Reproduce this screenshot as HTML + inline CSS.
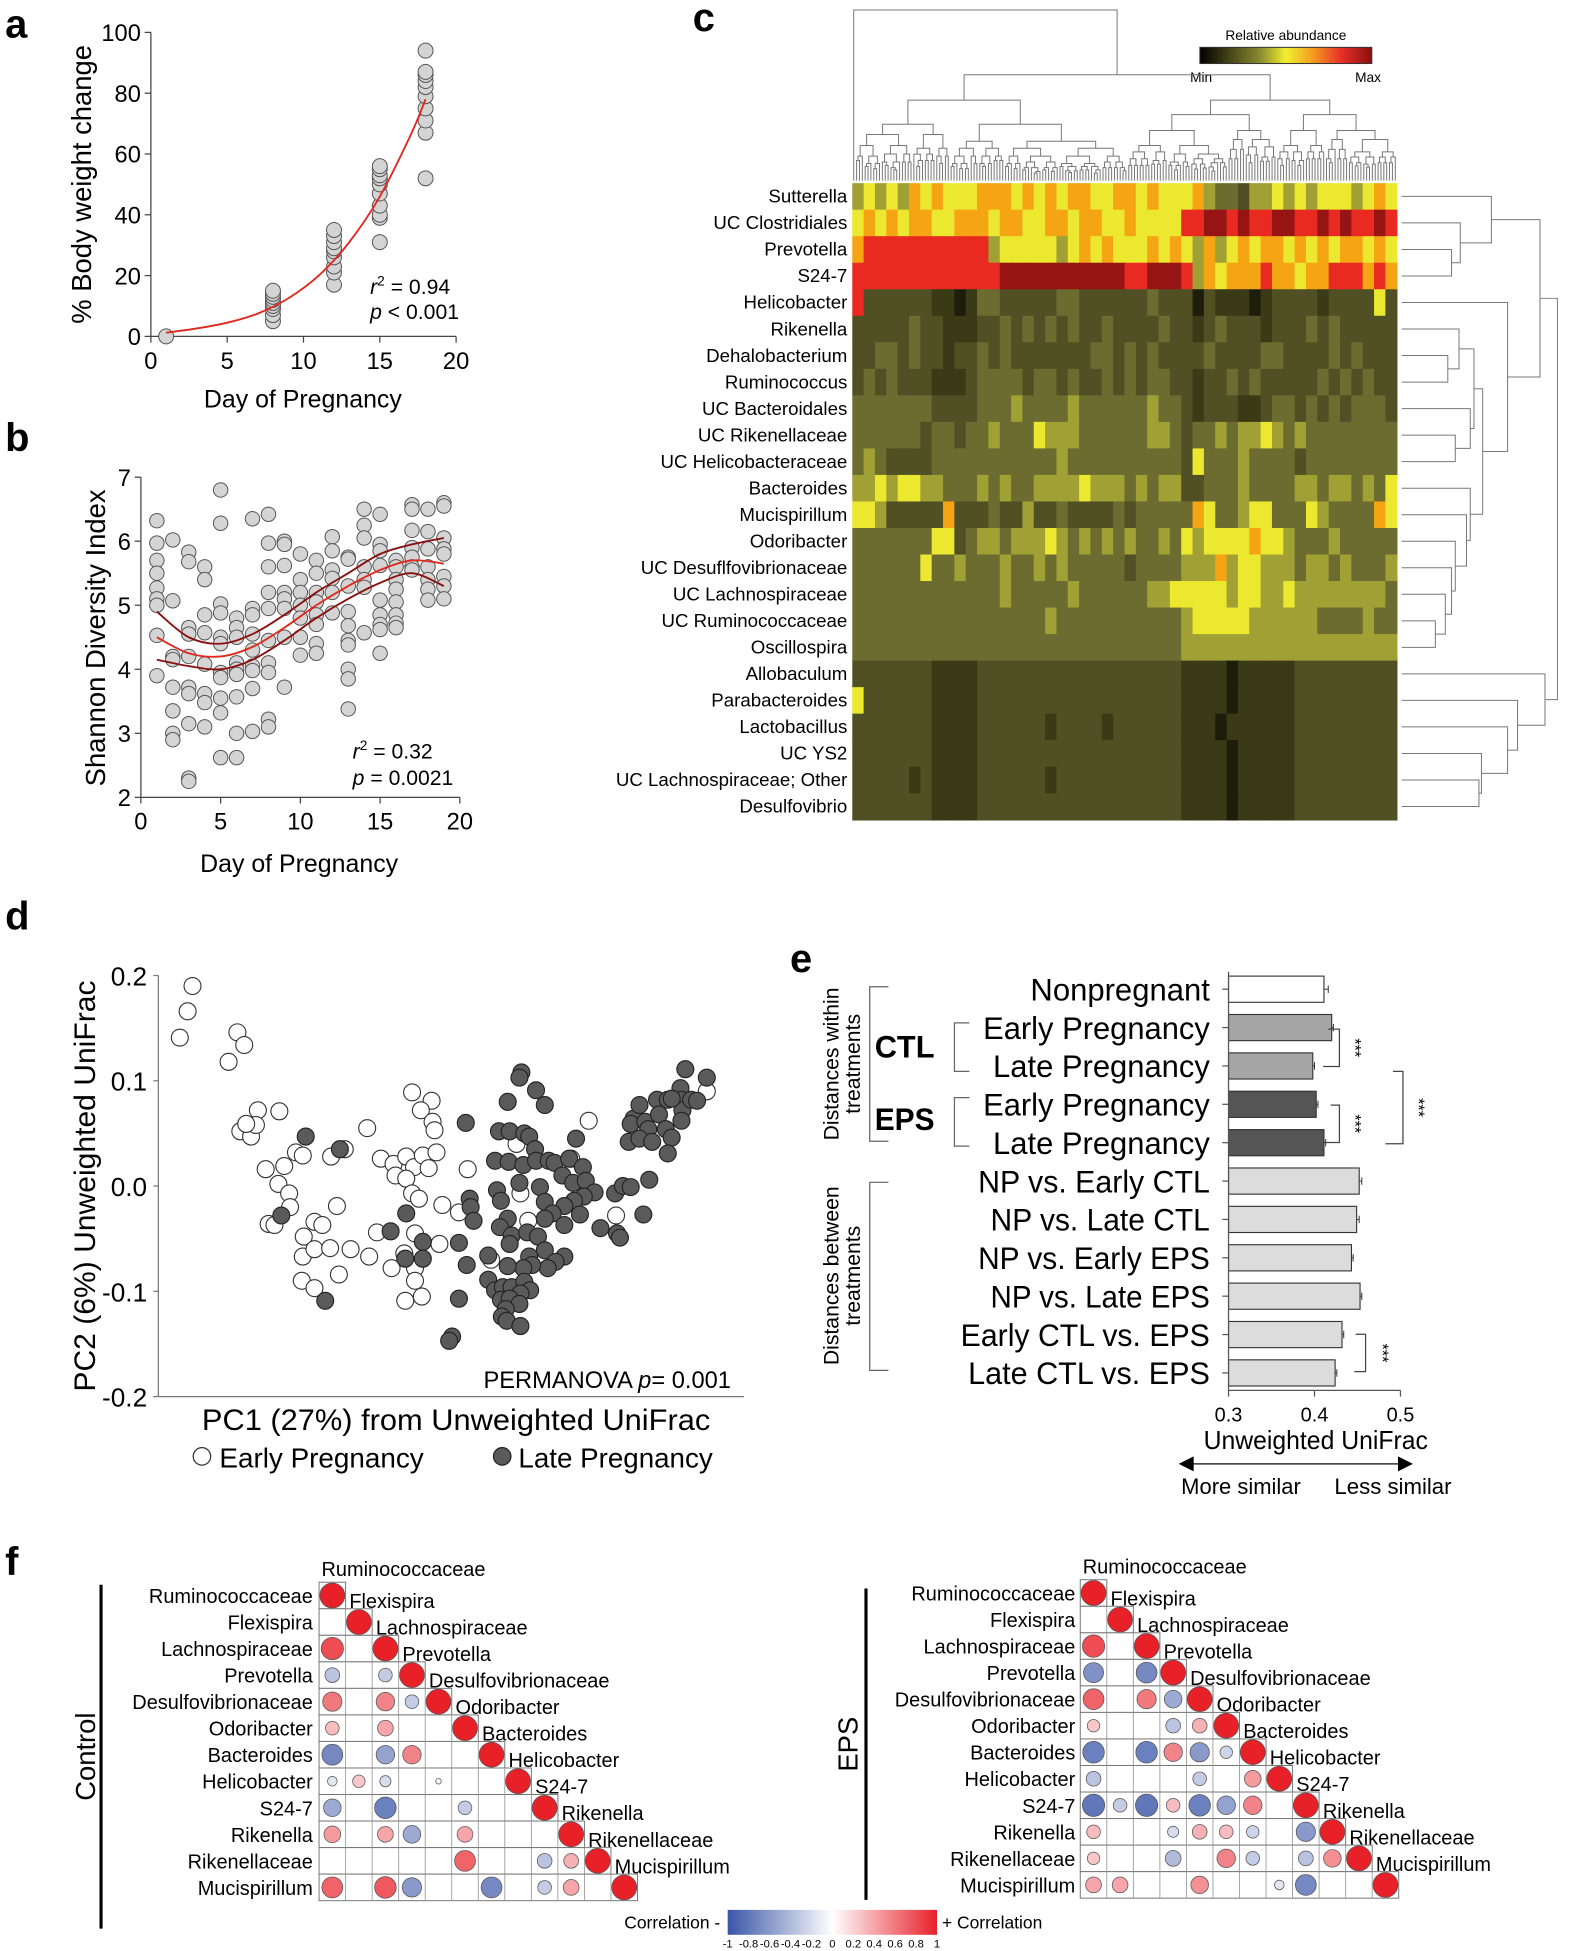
<!DOCTYPE html>
<html><head><meta charset="utf-8"><style>
html,body{margin:0;padding:0;background:#fff}
svg{display:block;font-family:"Liberation Sans",Arial,sans-serif}
</style></head><body>
<svg id="fig" xmlns="http://www.w3.org/2000/svg" width="1575" height="1951" viewBox="0 0 1264 1566"></svg>
<script>
// ===== DATA =====
// Panel a
const aDays=[1,8,12,15,18];
const aVals=[[0],[5,7,9,10,11,12,13,14,15],[17,21,23,26,28,29,31,33,35],[31,39,40,43,47,50,52,53,55,56],[52,67,71,75,79,82,84,86,87,94]];
const aFitX=[1,3,5,7,9,11,13,15,17,18];
const aFitY=[1.2,2.6,4.5,7.5,12.5,20,31,46,66,78];
// Panel b
const bDays=[1,2,3,4,5,6,7,8,9,10,11,12,13,14,15,16,17,18,19];
const bVals=[[6.32,5.97,5.7,5.5,5.27,5.1,5.0,4.53,3.9],[6.02,5.07,4.2,4.15,3.72,3.35,3.0,2.9],[5.83,5.68,4.65,4.55,4.2,3.72,3.62,3.15,2.3,2.25],[5.6,5.4,4.85,4.57,4.08,3.62,3.48,3.1],[6.8,6.28,5.02,4.88,4.5,4.4,3.95,3.87,3.55,3.32,2.62],[4.8,4.65,4.5,4.1,4.0,3.92,3.57,3.0,2.62],[6.35,4.95,4.85,4.55,4.3,4.05,3.98,3.7,3.03],[6.42,5.97,5.6,5.2,4.95,4.45,4.1,3.95,3.22,3.1],[6.0,5.95,5.62,5.2,5.1,4.95,4.5,3.72],[5.8,5.4,5.2,5.0,4.8,4.5,4.22],[5.7,5.5,5.2,5.05,4.85,4.7,4.4,4.25],[6.07,5.85,5.55,5.42,5.2,4.88],[5.75,5.72,5.3,4.9,4.68,4.45,4.38,4.0,3.85,3.38],[6.5,6.25,6.05,5.6,5.4,5.28,4.57],[6.42,5.95,5.85,5.62,5.08,4.85,4.7,4.62,4.25],[5.7,5.6,5.4,5.25,5.05,4.85,4.72,4.65],[6.57,6.5,6.17,5.9,5.75,5.6,5.55],[6.5,6.15,5.88,5.6,5.4,5.25,5.08],[6.6,6.55,6.05,5.88,5.8,5.45,5.3,5.1]];
const bFitX=[1,3,5,7,9,11,13,15,17,19];
const bFitMid=[4.5,4.25,4.2,4.35,4.65,5.0,5.3,5.55,5.7,5.65];
const bFitHi=[4.9,4.5,4.4,4.55,4.85,5.2,5.5,5.8,5.95,6.05];
const bFitLo=[4.15,4.05,4.0,4.15,4.45,4.8,5.1,5.35,5.5,5.3];
// Panel c
const cTaxa=["Sutterella","UC Clostridiales","Prevotella","S24-7","Helicobacter","Rikenella","Dehalobacterium","Ruminococcus","UC Bacteroidales","UC Rikenellaceae","UC Helicobacteraceae","Bacteroides","Mucispirillum","Odoribacter","UC Desuflfovibrionaceae","UC Lachnospiraceae","UC Ruminococcaceae","Oscillospira","Allobaculum","Parabacteroides","Lactobacillus","UC YS2","UC Lachnospiraceae; Other","Desulfovibrio"];
const cRows=[
"565657676667776767677667767666754435565656665676",
"676767766777677667767766766668899898899889898898",
"788888888888566666567676667676575676776767677676",
"888888888888899999999999889998576777877677888787",
"833333322124433333443333334333132221233332333363",
"333334332223343434343343333433234333233343433333",
"334434332334343333333443434333343333443333434333",
"343433322234444344343343434433233434333334343433",
"444444433334445444454444445443233322344343434443",
"444444344344544465554444445543445455654544444444",
"454333344444444444544444444443644454444344444444",
"556566554445454455556555454553344454444554554546",
"665333337333433533433334344444764456644465444476",
"444444466345545556545454544546566667665444544444",
"444444644544454454544444344445557566555455454445",
"444444444444454444454444445566666566556555555554",
"444444444444444445444444444445666665555554444544",
"444444444444444444444444444445555555555555555555",
"333333322223333333333333333332222122222333333333",
"633333322223333333333333333332222122222333333333",
"333333322223333332333323333332221222222333333333",
"333333322223333333333333333332222122222333333333",
"333332322223333332333333333332222122222333333333",
"333333322223333333333333333332222122222333333333"];
// Panel d
const dEarlyX=[-0.265,-0.270,-0.278,-0.219,-0.212,-0.228,-0.198,-0.176,-0.216,-0.205,-0.200,-0.210,-0.190,-0.171,-0.177,-0.166,-0.165,-0.187,-0.181,-0.159,-0.152,-0.123,-0.117,-0.140,-0.132,-0.151,-0.152,-0.140,-0.124,-0.103,-0.115,-0.153,-0.140,-0.086,-0.109,-0.084,-0.076,-0.061,-0.072,-0.059,-0.046,-0.038,-0.057,-0.046,-0.029,-0.023,-0.015,-0.040,-0.020,-0.031,-0.019,-0.017,-0.040,-0.033,-0.037,-0.048,-0.037,-0.037,-0.047,-0.030,-0.009,-0.012,0.008,0.017,0.041,0.067,0.071,0.079,0.141,0.169,0.262,0.123];
const dEarlyY=[0.19,0.166,0.141,0.146,0.134,0.118,0.072,0.071,0.052,0.047,0.058,0.059,0.016,0.019,0.002,-0.007,-0.020,-0.036,-0.037,0.032,0.029,0.028,-0.019,-0.034,-0.037,-0.048,-0.067,-0.060,-0.059,-0.060,-0.084,-0.090,-0.097,0.055,0.035,-0.067,-0.044,-0.078,0.026,0.021,0.028,0.018,0.010,0.007,0.029,0.017,0.032,0.089,0.081,0.072,0.061,0.053,-0.007,-0.012,-0.045,-0.064,-0.078,-0.090,-0.109,-0.105,-0.018,-0.055,-0.025,0.016,-0.070,0.040,-0.007,-0.033,0.062,-0.028,0.090,0.026];
const dLateX=[-0.149,-0.114,-0.174,-0.129,-0.046,-0.062,-0.029,-0.047,-0.029,0.015,0.019,0.020,0.023,0.008,0.016,0.008,0.001,-0.002,0.072,0.070,0.087,0.096,0.058,0.049,0.060,0.075,0.080,0.086,0.045,0.059,0.074,0.087,0.100,0.106,0.128,0.121,0.135,0.114,0.125,0.138,0.147,0.136,0.126,0.116,0.132,0.091,0.070,0.047,0.051,0.096,0.104,0.096,0.116,0.058,0.050,0.062,0.060,0.078,0.089,0.096,0.080,0.116,0.107,0.099,0.083,0.074,0.058,0.038,0.038,0.045,0.053,0.062,0.075,0.081,0.071,0.051,0.060,0.070,0.056,0.052,0.057,0.071,0.153,0.168,0.176,0.184,0.170,0.173,0.197,0.203,0.182,0.187,0.184,0.193,0.199,0.202,0.193,0.206,0.211,0.213,0.220,0.226,0.222,0.222,0.235,0.236,0.237,0.236,0.246,0.252,0.240,0.262,0.226];
const dLateY=[0.047,0.035,-0.028,-0.109,-0.026,-0.043,-0.053,-0.069,-0.069,0.060,-0.012,-0.020,-0.033,-0.054,-0.075,-0.107,-0.143,-0.147,0.108,0.103,0.091,0.077,0.080,0.052,0.052,0.050,0.047,0.035,0.024,0.023,0.020,0.024,0.024,0.022,0.045,0.026,0.018,0.010,0.003,0.005,-0.006,-0.010,-0.014,-0.019,-0.027,-0.001,0.003,-0.004,-0.014,-0.015,-0.026,-0.031,-0.037,-0.031,-0.039,-0.047,-0.055,-0.044,-0.048,-0.061,-0.067,-0.067,-0.072,-0.078,-0.075,-0.078,-0.076,-0.066,-0.089,-0.099,-0.096,-0.096,-0.091,-0.099,-0.102,-0.108,-0.107,-0.112,-0.117,-0.124,-0.128,-0.133,-0.040,-0.007,0.000,-0.001,-0.045,-0.049,-0.027,0.006,0.042,0.064,0.059,0.077,0.061,0.054,0.045,0.042,0.082,0.068,0.054,0.046,0.031,0.082,0.093,0.082,0.072,0.062,0.082,0.081,0.111,0.103,0.083];
// Panel e
const eLabels=["Nonpregnant","Early Pregnancy","Late Pregnancy","Early Pregnancy","Late Pregnancy","NP vs. Early CTL","NP vs. Late CTL","NP vs. Early EPS","NP vs. Late EPS","Early CTL vs. EPS","Late CTL vs. EPS"];
const eVals=[0.411,0.420,0.398,0.402,0.411,0.452,0.449,0.443,0.453,0.432,0.424];
const eErr=[0.005,0.002,0.002,0.002,0.002,0.003,0.003,0.002,0.002,0.002,0.002];
const eTicks=[0.3,0.4,0.5];
// Panel f
const fTaxa=["Ruminococcaceae","Flexispira","Lachnospiraceae","Prevotella","Desulfovibrionaceae","Odoribacter","Bacteroides","Helicobacter","S24-7","Rikenella","Rikenellaceae","Mucispirillum"];
const fCtl=[[],[0],[0.8,0],[-0.35,0,-0.3],[0.6,0,0.55,-0.3],[0.3,0,0.4,0,0],[-0.7,0,-0.55,0.55,0,0],[-0.15,0.25,-0.2,0,-0.05,0,0],[-0.5,0,-0.75,0,0,-0.3,0,0],[0.45,0,0.4,-0.5,0,0.4,0,0,0],[0,0,0,0,0,0.7,0,0,-0.35,0.35],[0.7,0,0.75,-0.6,0,0,-0.7,0,-0.3,0.4,0]];
const fEps=[[],[0],[0.8,0],[-0.65,0,-0.7],[0.7,0,0.6,-0.5],[0.25,0,0,-0.35,0.35],[-0.75,0,-0.75,0.55,-0.6,-0.25],[-0.35,0,0,0,-0.3,0,0.45],[-0.8,-0.3,-0.8,0.3,-0.75,-0.55,0.55,0],[0.3,0,0,-0.2,0.35,0.3,-0.25,0,-0.6],[0.25,0,0,-0.4,0,0.55,-0.3,0,-0.35,0.5],[0.4,0.4,0,0,0.5,0,0,-0.15,-0.7,0,0]];
const fTicks=["-1","-0.8","-0.6","-0.4","-0.2","0","0.2","0.4","0.6","0.8","1"];

// ===== HELPERS =====
const NS="http://www.w3.org/2000/svg";
const svg=document.getElementById('fig');
function mk(tag,attrs,parent){const e=document.createElementNS(NS,tag);for(const k in attrs)e.setAttribute(k,attrs[k]);(parent||svg).appendChild(e);return e;}
function txt(s,x,y,size,parent,extra){const e=mk('text',Object.assign({x:x,y:y,'font-size':size},extra||{}),parent);e.textContent=s;return e;}
function grp(name){const g=mk('g',{});return g;}
function lin(x1,y1,x2,y2,parent,stroke,w){return mk('line',{x1:x1,y1:y1,x2:x2,y2:y2,stroke:stroke||'#000','stroke-width':w||1},parent);}
function smooth(pts){let d='M'+pts[0];for(let i=0;i<pts.length-1;i++){const p0=pts[Math.max(0,i-1)],p1=pts[i],p2=pts[i+1],p3=pts[Math.min(pts.length-1,i+2)];
  const c1=[p1[0]+(p2[0]-p0[0])/6,p1[1]+(p2[1]-p0[1])/6],c2=[p2[0]-(p3[0]-p1[0])/6,p2[1]-(p3[1]-p1[1])/6];d+=' C'+c1+' '+c2+' '+p2;}return d;}

[['a',4,30],['b',4,362],['c',556,25],['d',4,746],['e',634,780],['f',4,1264]].forEach(p=>{
  const t=txt(p[0],p[1],p[2],32,svg,{'font-weight':'bold'});
  
  
});

// ===== PANEL A =====
(function(){
  const g=grp('panel-a-body-weight');
  const X0=121,X1=366,Y0=270,Y1=26;
  const sx=d=>X0+(X1-X0)*d/20, sy=v=>Y0-(Y0-Y1)*v/100;
  lin(X0,Y1,X0,Y0,g,'#444');lin(X0,Y0,X1,Y0,g,'#444');
  [0,20,40,60,80,100].forEach(v=>{lin(X0-5,sy(v),X0,sy(v),g,'#444');const t=txt(v,X0-8,sy(v)+7,19,g,{'text-anchor':'end'});});
  [0,5,10,15,20].forEach(v=>{lin(sx(v),Y0,sx(v),Y0+5,g,'#444');const t=txt(v,sx(v),Y0+26,19,g,{'text-anchor':'middle'});});
  const yt=txt('% Body weight change',0,0,22,g,{'text-anchor':'middle',transform:'translate(73,148) rotate(-90)'});
  
  const xt=txt('Day of Pregnancy',243,327,20,g,{'text-anchor':'middle'});
  
  aDays.forEach((d,i)=>aVals[i].forEach(v=>{const c=mk('circle',{cx:sx(d),cy:sy(v),r:6,fill:'#d4d4d4',stroke:'#555','stroke-width':0.8},g);}));
  const p=mk('path',{d:smooth(aFitX.map((d,i)=>[sx(d),sy(aFitY[i])])),fill:'none',stroke:'#e0281e','stroke-width':1.5},g);
  
  const s1=txt('',297,236,17,g);s1.innerHTML='<tspan font-style="italic">r</tspan><tspan dy="-7" font-size="11">2</tspan><tspan dy="7"> = 0.94</tspan>';
  
  const s2=txt('',297,256,17,g);s2.innerHTML='<tspan font-style="italic">p</tspan> &lt; 0.001';
  
})();

// ===== PANEL B =====
(function(){
  const g=grp('panel-b-shannon');
  const X0=113,X1=369,Y0=640,Y1=383;
  const sx=d=>X0+(X1-X0)*d/20, sy=v=>Y0-(Y0-Y1)*(v-2)/5;
  lin(X0,Y1,X0,Y0,g,'#444');lin(X0,Y0,X1,Y0,g,'#444');
  [2,3,4,5,6,7].forEach(v=>{lin(X0-5,sy(v),X0,sy(v),g,'#444');const t=txt(v,X0-8,sy(v)+7,19,g,{'text-anchor':'end'});});
  [0,5,10,15,20].forEach(v=>{lin(sx(v),Y0,sx(v),Y0+5,g,'#444');const t=txt(v,sx(v),Y0+26,19,g,{'text-anchor':'middle'});});
  const yt=txt('Shannon Diversity Index',0,0,22,g,{'text-anchor':'middle',transform:'translate(84,512) rotate(-90)'});
  
  const xt=txt('Day of Pregnancy',240,700,20,g,{'text-anchor':'middle'});
  
  bDays.forEach((d,i)=>bVals[i].forEach(v=>{const c=mk('circle',{cx:sx(d),cy:sy(v),r:5.8,fill:'#d4d4d4',stroke:'#555','stroke-width':0.8},g);}));
  [[bFitHi,'#8a1010','ci-upper'],[bFitLo,'#8a1010','ci-lower'],[bFitMid,'#e0281e','fit-curve']].forEach(s=>{
    const pts=bFitX.map((d,i)=>[sx(d),sy(s[0][i])]);
    const p=mk('path',{d:smooth(pts),fill:'none',stroke:s[1],'stroke-width':1.5},g);
    
  });
  const s1=txt('',283,609,17,g);s1.innerHTML='<tspan font-style="italic">r</tspan><tspan dy="-7" font-size="11">2</tspan><tspan dy="7"> = 0.32</tspan>';
  
  const s2=txt('',283,630,17,g);s2.innerHTML='<tspan font-style="italic">p</tspan> = 0.0021';
  
})();

// ===== PANEL C =====
(function(){
  const g=grp('panel-c-heatmap');
  const HX0=684,HX1=1121,HY0=147,HY1=658;
  const nR=cRows.length,nC=cRows[0].length;
  const rh=(HY1-HY0)/nR,cw=(HX1-HX0)/nC;
  const stops=[[0,[0,0,0]],[2,[58,58,22]],[3,[80,80,36]],[4,[108,108,48]],[5,[160,160,52]],[6,[236,232,48]],[7,[245,165,20]],[8,[232,42,32]],[9,[150,20,20]]];
  function col(v){for(let i=1;i<stops.length;i++){if(v<=stops[i][0]){const a=stops[i-1],b=stops[i];const t=(v-a[0])/(b[0]-a[0]);const c=a[1].map((x,k)=>Math.round(x+(b[1][k]-x)*t));return 'rgb('+c.join(',')+')';}}return 'rgb(150,20,20)';}
  cRows.forEach((row,r)=>{
    for(let c=0;c<nC;c++){
      const v=+row[c];
      const e=mk('rect',{x:HX0+c*cw,y:HY0+r*rh,width:cw+0.6,height:rh+0.6,fill:col(v)},g);
      
    }
    const t=txt(cTaxa[r],680,HY0+(r+0.5)*rh+5,15,g,{'text-anchor':'end'});
    
  });
  const defs=mk('defs',{});
  const lg=mk('linearGradient',{id:'hmgrad',x1:0,x2:1,y1:0,y2:0},defs);
  [['0','#000'],['0.35','#8a8a30'],['0.5','#f0f030'],['0.65','#f5a020'],['0.82','#e83028'],['1','#8a1010']].forEach(s=>mk('stop',{offset:s[0],'stop-color':s[1]},lg));
  const cb=mk('rect',{x:963,y:38,width:138,height:13,fill:'url(#hmgrad)',stroke:'#333','stroke-width':0.8},g);
  
  const t1=txt('Relative abundance',1032,32,11,g,{'text-anchor':'middle'});
  const t2=txt('Min',964,66,11,g,{'text-anchor':'middle'});
  const t3=txt('Max',1098,66,11,g,{'text-anchor':'middle'});
  const dg=grp('column-dendrogram');
  const NL=190,lx=i=>HX0+(i+0.5)*(HX1-HX0)/NL;
  const ratios=[0.5,0.35,0.62,0.45,0.3,0.55,0.68,0.4,0.58,0.47];
  let k=0;
  function node(lo,hi,y){
    if(hi-lo<1){return lx(lo);}
    const r=ratios[(k++)%ratios.length];
    const mid=lo+Math.max(0,Math.min(hi-lo-1,Math.floor((hi-lo)*r)));
    const ny=y+(145-y)*(0.18+0.12*((k%3)/2));
    const xa=node(lo,mid,ny),xb=node(mid+1,hi,ny);
    const ya=(mid===lo)?145:ny, yb=(mid+1===hi)?145:ny;
    mk('path',{d:'M'+xa+','+ya+'V'+y+'H'+xb+'V'+yb,fill:'none',stroke:'#777','stroke-width':0.8},dg);
    return (xa+xb)/2;
  }
  const xr=node(1,NL-1,60);
  mk('path',{d:'M'+lx(0)+',145V8H'+xr+'V60',fill:'none',stroke:'#777','stroke-width':0.8},dg);
  const rg=grp('row-dendrogram');
  const merges=[[2,3,1165],[1,24,1172],[0,25,1197],[6,7,1162],[5,27,1171],[9,10,1168],[8,29,1180],[28,30,1183],[16,17,1152],[15,32,1160],[14,33,1165],[13,34,1168],[12,35,1177],[11,36,1180],[31,37,1190],[4,38,1210],[26,39,1236],[22,23,1187],[21,41,1189],[20,42,1210],[19,43,1218],[18,44,1240],[40,45,1250]];
  const ny=[],nx=[];
  for(let r=0;r<24;r++){ny[r]=HY0+(r+0.5)*rh;nx[r]=1125;}
  merges.forEach((m,i)=>{const id=24+i;const a=m[0],b=m[1],x=m[2];
    mk('path',{d:'M'+nx[a]+','+ny[a]+'H'+x+'V'+ny[b]+'H'+nx[b],fill:'none',stroke:'#777','stroke-width':0.8},rg);
    ny[id]=(ny[a]+ny[b])/2;nx[id]=x;});
})();

// ===== PANEL D =====
(function(){
  const g=grp('panel-d-pcoa');
  const X0=127,X1=597,Y0=1121,Y1=783;
  const sx=v=>X0+(X1-X0)*(v+0.3)/0.6, sy=v=>Y0-(Y0-Y1)*(v+0.2)/0.4;
  lin(X0,Y1,X0,Y0,g,'#777');lin(X0,Y0,X1,Y0,g,'#777');
  [0.2,0.1,0.0,-0.1,-0.2].forEach(v=>{lin(X0-4,sy(v),X0,sy(v),g,'#777');const t=txt(v.toFixed(1),X0-9,sy(v)+8,21,g,{'text-anchor':'end'});});
  const yt=txt('PC2 (6%) Unweighted UniFrac',0,0,24,g,{'text-anchor':'middle',transform:'translate(76,952) rotate(-90)',textLength:330,lengthAdjust:'spacingAndGlyphs'});
  
  const xt=txt('PC1 (27%) from Unweighted UniFrac',162,1148,24,g,{textLength:408,lengthAdjust:'spacingAndGlyphs'});
  
  dEarlyX.forEach((x,i)=>{const c=mk('circle',{cx:sx(x),cy:sy(dEarlyY[i]),r:6.8,fill:'#fff',stroke:'#333','stroke-width':0.9},g);});
  dLateX.forEach((x,i)=>{const c=mk('circle',{cx:sx(x),cy:sy(dLateY[i]),r:6.8,fill:'#5a5a5a',stroke:'#222','stroke-width':0.9},g);});
  const pm=txt('',388,1114,19,g);pm.innerHTML='PERMANOVA  <tspan font-style="italic">p</tspan>= 0.001';
  
  const le=mk('circle',{cx:162,cy:1169,r:7,fill:'#fff',stroke:'#333'},g);
  const lt=txt('Early Pregnancy',176,1178,22,g,{textLength:164,lengthAdjust:'spacingAndGlyphs'});
  const lf=mk('circle',{cx:403,cy:1169,r:7,fill:'#5a5a5a',stroke:'#222'},g);
  const lt2=txt('Late Pregnancy',416,1178,22,g,{textLength:156,lengthAdjust:'spacingAndGlyphs'});
})();

// ===== PANEL E =====
(function(){
  const g=grp('panel-e-bars');
  const X0=986,X1=1124,yc=i=>794+i*30.8,bh=21;
  const sx=v=>X0+(X1-X0)*(v-0.3)/0.2;
  const fills=['#ffffff','#a6a6a6','#a6a6a6','#555555','#555555','#dcdcdc','#dcdcdc','#dcdcdc','#dcdcdc','#dcdcdc','#dcdcdc'];
  eVals.forEach((v,i)=>{
    const r=mk('rect',{x:X0,y:yc(i)-bh/2,width:sx(v)-X0,height:bh,fill:fills[i],stroke:'#333','stroke-width':0.9},g);
    
    lin(sx(v),yc(i),sx(v+eErr[i]),yc(i),g,'#333',0.8);lin(sx(v+eErr[i]),yc(i)-3,sx(v+eErr[i]),yc(i)+3,g,'#333',0.8);
    lin(X0-5,yc(i),X0,yc(i),g,'#555');
    const t=txt(eLabels[i],971,yc(i)+9,25,g,{'text-anchor':'end'});
    
    t.setAttribute('textLength',{0:144,1:182,2:174,3:182,4:174,5:186,6:176,7:186,8:176,9:200,10:194}[i]);
    t.setAttribute('lengthAdjust','spacingAndGlyphs');
  });
  lin(X0,780,X0,1116,g,'#555');lin(X0,1116,X1,1116,g,'#555');
  eTicks.forEach(v=>{lin(sx(v),1116,sx(v),1121,g,'#555');const t=txt(v,sx(v),1141,16,g,{'text-anchor':'middle'});});
  const xt=txt('Unweighted UniFrac',1056,1163,21,g,{'text-anchor':'middle',textLength:180,lengthAdjust:'spacingAndGlyphs'});
  
  lin(955,1175,1124,1175,g,'#333',1.2);
  mk('path',{d:'M946,1175l12,-6v12z M1134,1175l-12,-6v12z',fill:'#000'},g);
  const m1=txt('More similar',996,1199,18,g,{'text-anchor':'middle',textLength:96,lengthAdjust:'spacingAndGlyphs'});
  const m2=txt('Less similar',1118,1199,18,g,{'text-anchor':'middle',textLength:94,lengthAdjust:'spacingAndGlyphs'});
  mk('path',{d:'M713,792H698V916H713 M713,949H698V1100H713',fill:'none',stroke:'#666'},g);
  mk('path',{d:'M778,821H766V860H778 M778,881H766V920H778',fill:'none',stroke:'#666'},g);
  const w1=txt('Distances within',0,0,17,g,{'text-anchor':'middle',transform:'translate(673,854) rotate(-90)'});
  const w2=txt('treatments',0,0,17,g,{'text-anchor':'middle',transform:'translate(690,854) rotate(-90)'});
  const b1=txt('Distances between',0,0,17,g,{'text-anchor':'middle',transform:'translate(673,1024) rotate(-90)'});
  const b2=txt('treatments',0,0,17,g,{'text-anchor':'middle',transform:'translate(690,1024) rotate(-90)'});
  const ctl=txt('CTL',702,849,25,g,{'font-weight':'bold',textLength:48,lengthAdjust:'spacingAndGlyphs'});
  const eps=txt('EPS',702,907,25,g,{'font-weight':'bold',textLength:48,lengthAdjust:'spacingAndGlyphs'});
  mk('path',{d:'M1066,826H1075V856H1062 M1068,887H1075V917H1063 M1118,860H1126V918H1112 M1088,1071H1096V1101H1087',fill:'none',stroke:'#444'},g);
  [[1083,841],[1083,902],[1134,889],[1105,1086]].forEach(p=>{const t=txt('***',0,0,13,g,{'text-anchor':'middle',transform:'translate('+p[0]+','+p[1]+') rotate(90)'});});
})();

// ===== PANEL F =====
function corrColor(r){const t=Math.abs(r);const w=[255,255,255];const e=r>=0?[232,32,40]:[58,85,168];return 'rgb('+w.map((x,k)=>Math.round(x+(e[k]-x)*t)).join(',')+')';}
function corrMatrix(name,vals,X0,Y0,labelRight,sideTitle,sideX,lineX,lineY0,lineY1){
  const g=grp(name);
  const cs=21.3;
  const ct=txt(fTaxa[0],X0+2,Y0-5,16,g);
  fTaxa.forEach((tx,i)=>{
    const y=Y0+i*cs;
    const box=mk('rect',{x:X0,y:y,width:(i+1)*cs,height:cs,fill:'#fff',stroke:'#777','stroke-width':0.8},g);
    
    for(let j=1;j<=i;j++)lin(X0+j*cs,y,X0+j*cs,y+cs,g,'#999',0.7);
    const rl=txt(tx,labelRight,y+cs/2+6,16,g,{'text-anchor':'end'});
    if(i<fTaxa.length-1){const dl=txt(fTaxa[i+1],X0+(i+1)*cs+3,y+cs/2+10,16,g);}
    const row=vals[i].concat([1]);
    row.forEach((r,j)=>{if(!r)return;const rad=10*Math.sqrt(Math.abs(r));
      const c=mk('circle',{cx:X0+(j+0.5)*cs,cy:y+cs/2,r:rad,fill:corrColor(r),stroke:'#555','stroke-width':0.6},g);
      });
  });
  lin(lineX,lineY0,lineX,lineY1,g,'#000',2.5);
  const st=txt(sideTitle,0,0,22,g,{'text-anchor':'middle',transform:'translate('+sideX+','+((lineY0+lineY1)/2)+') rotate(-90)'});
  
}
corrMatrix('panel-f-control',fCtl,256,1270,251,'Control',76,81,1272,1548);
corrMatrix('panel-f-eps',fEps,867,1268,863,'EPS',688,695,1275,1525);
(function(){
  const g=grp('correlation-colorbar');
  const defs=mk('defs',{});
  const lg=mk('linearGradient',{id:'corrgrad',x1:0,x2:1,y1:0,y2:0},defs);
  [['0','#3a55a8'],['0.5','#ffffff'],['1','#e8202a']].forEach(s=>mk('stop',{offset:s[0],'stop-color':s[1]},lg));
  const r=mk('rect',{x:584,y:1533,width:168,height:20,fill:'url(#corrgrad)'},g);
  
  const a=txt('Correlation -',578,1548,14,g,{'text-anchor':'end'});
  const b=txt('+ Correlation',756,1548,14,g);
  fTicks.forEach((t,i)=>{const e=txt(t,584+i*16.8,1563,9,g,{'text-anchor':'middle'});});
})();
</script>
</body></html>
